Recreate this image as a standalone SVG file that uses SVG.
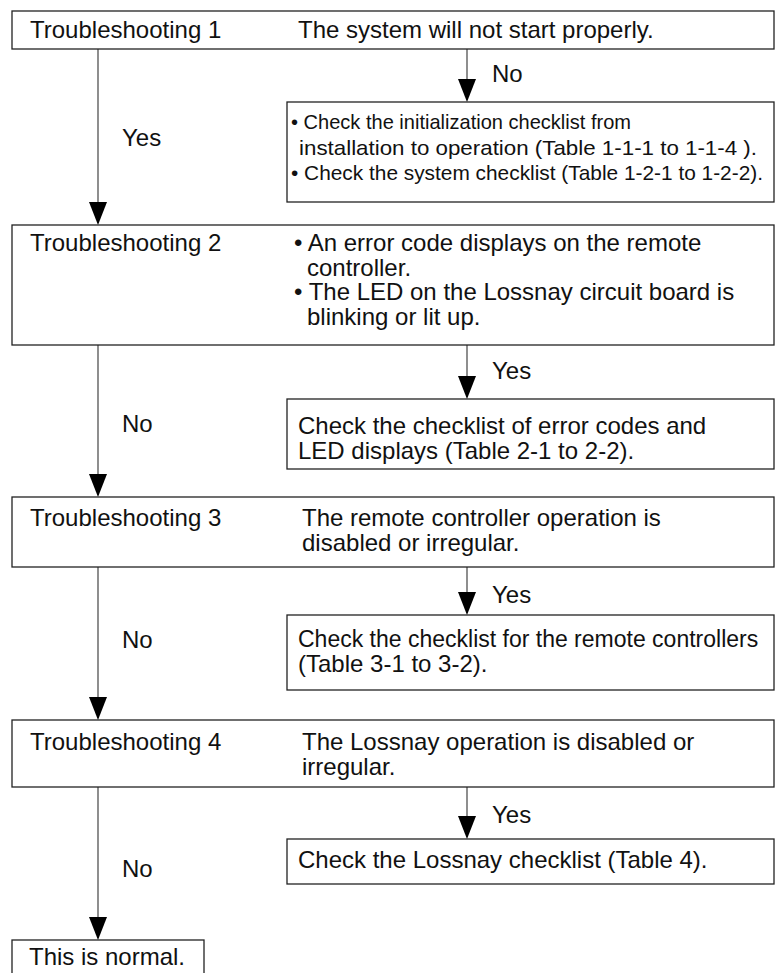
<svg xmlns="http://www.w3.org/2000/svg" width="776" height="973" viewBox="0 0 776 973">
<defs>
<style>
.box{fill:#fff;stroke:#222;stroke-width:1.3}
.t{font-family:"Liberation Sans",Arial,sans-serif;font-size:24px;fill:#111}
.s{font-family:"Liberation Sans",Arial,sans-serif;font-size:21px;fill:#111}
.line{stroke:#444;stroke-width:1.2;fill:none}
.head{fill:#000}
</style>
</defs>
<rect width="776" height="973" fill="#fff"/>
<g id="connectors">
<line class="line" x1="98" y1="49" x2="98" y2="205"/>
<path class="head" d="M89,202 L107,202 L98,225 Z"/>
<line class="line" x1="467" y1="49" x2="467" y2="82"/>
<path class="head" d="M458,79 L476,79 L467,102 Z"/>
<line class="line" x1="98" y1="345" x2="98" y2="478"/>
<path class="head" d="M89,474 L107,474 L98,497 Z"/>
<line class="line" x1="467" y1="345" x2="467" y2="380"/>
<path class="head" d="M458,376 L476,376 L467,399 Z"/>
<line class="line" x1="98" y1="567" x2="98" y2="700"/>
<path class="head" d="M89,697 L107,697 L98,720 Z"/>
<line class="line" x1="467" y1="567" x2="467" y2="595"/>
<path class="head" d="M458,592 L476,592 L467,615 Z"/>
<line class="line" x1="98" y1="787" x2="98" y2="920"/>
<path class="head" d="M89,917 L107,917 L98,940 Z"/>
<line class="line" x1="467" y1="787" x2="467" y2="820"/>
<path class="head" d="M458,816 L476,816 L467,839 Z"/>
<text class="t" x="492" y="82">No</text>
<text class="t" x="122" y="146">Yes</text>
<text class="t" x="492" y="379">Yes</text>
<text class="t" x="122" y="432">No</text>
<text class="t" x="492" y="603">Yes</text>
<text class="t" x="122" y="648">No</text>
<text class="t" x="492" y="823">Yes</text>
<text class="t" x="122" y="877">No</text>
</g>
<g id="ts1">
<rect class="box" x="12" y="11" width="762" height="38"/>
<text class="t" x="30" y="38">Troubleshooting 1</text>
<text class="t" x="298" y="38">The system will not start properly.</text>
</g>
<g id="check1">
<rect class="box" x="287" y="102" width="487" height="100"/>
<text class="s" x="291" y="129" textLength="340" lengthAdjust="spacingAndGlyphs">• Check the initialization checklist from</text>
<text class="s" x="299" y="155" textLength="458" lengthAdjust="spacingAndGlyphs">installation to operation (Table 1-1-1 to 1-1-4 ).</text>
<text class="s" x="291" y="180" textLength="472" lengthAdjust="spacingAndGlyphs">• Check the system checklist (Table 1-2-1 to 1-2-2).</text>
</g>
<g id="ts2">
<rect class="box" x="12" y="225" width="762" height="120"/>
<text class="t" x="30" y="251">Troubleshooting 2</text>
<text class="t" x="294" y="251">• An error code displays on the remote</text>
<text class="t" x="307" y="275.5">controller.</text>
<text class="t" x="294" y="300">• The LED on the Lossnay circuit board is</text>
<text class="t" x="307" y="324.5">blinking or lit up.</text>
</g>
<g id="check2">
<rect class="box" x="287" y="399" width="487" height="70"/>
<text class="t" x="298" y="434">Check the checklist of error codes and</text>
<text class="t" x="298" y="459">LED displays (Table 2-1 to 2-2).</text>
</g>
<g id="ts3">
<rect class="box" x="12" y="497" width="762" height="70"/>
<text class="t" x="30" y="526">Troubleshooting 3</text>
<text class="t" x="302" y="526">The remote controller operation is</text>
<text class="t" x="302" y="551">disabled or irregular.</text>
</g>
<g id="check3">
<rect class="box" x="287" y="615" width="487" height="75"/>
<text class="t" x="298" y="647" style="font-size:23px">Check the checklist for the remote controllers</text>
<text class="t" x="298" y="672"> (Table 3-1 to 3-2).</text>
</g>
<g id="ts4">
<rect class="box" x="12" y="720" width="762" height="67"/>
<text class="t" x="30" y="750">Troubleshooting 4</text>
<text class="t" x="302" y="750">The Lossnay operation is disabled or</text>
<text class="t" x="302" y="775">irregular.</text>
</g>
<g id="check4">
<rect class="box" x="287" y="839" width="487" height="45"/>
<text class="t" x="298" y="868">Check the Lossnay checklist (Table 4).</text>
</g>
<g id="normal">
<rect class="box" x="12" y="940" width="192" height="40"/>
<text class="t" x="29" y="965">This is normal.</text>
</g>
</svg>
